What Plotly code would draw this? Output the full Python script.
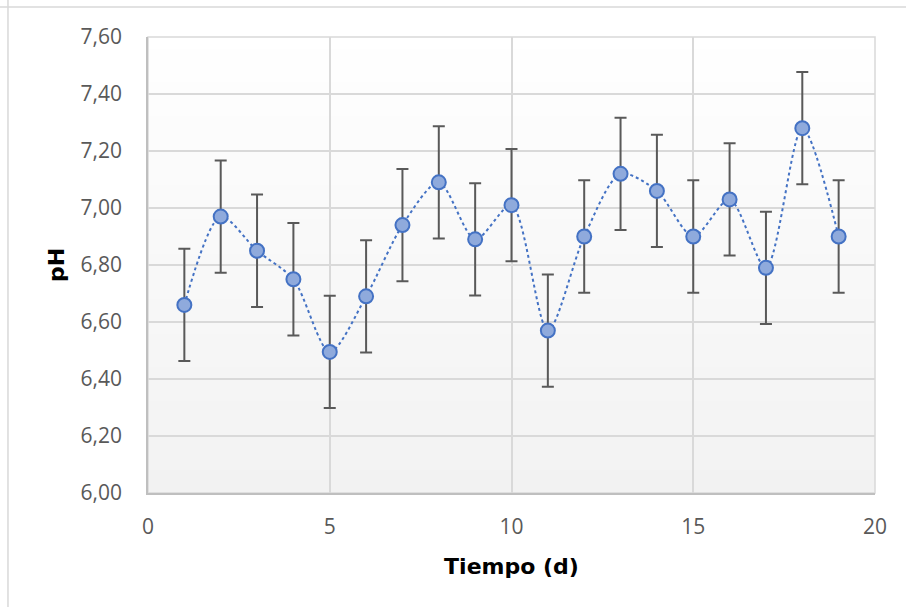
import plotly.graph_objects as go

dias = list(range(1, 20))
ph = [6.66, 6.97, 6.85, 6.75, 6.495, 6.69, 6.94, 7.09, 6.89, 7.01,
      6.57, 6.90, 7.12, 7.06, 6.90, 7.03, 6.79, 7.28, 6.90]
err = [0.197] * len(dias)

y_ticks = [6.0, 6.2, 6.4, 6.6, 6.8, 7.0, 7.2, 7.4, 7.6]
y_labels = ["6,00", "6,20", "6,40", "6,60", "6,80", "7,00", "7,20", "7,40", "7,60"]
x_ticks = [0, 5, 10, 15, 20]

fig = go.Figure()
fig.add_trace(go.Scatter(
    x=dias, y=ph, mode="lines+markers",
    line=dict(color="#4472c4", width=2, dash="dot", shape="spline", smoothing=0.8),
    marker=dict(size=14, color="#8faadc", line=dict(color="#4472c4", width=2)),
    error_y=dict(type="data", array=err, visible=True, color="#595959",
                 thickness=2, width=6),
    showlegend=False,
))

# gradient plot background
shapes = []
n = 40
for i in range(n):
    t = i / n
    c = int(round(255 - 13 * (1 - t)))
    shapes.append(dict(type="rect", xref="x domain", yref="y domain",
                       x0=0, x1=1, y0=t, y1=t + 1.0 / n + 0.002,
                       fillcolor=f"rgb({c},{c},{c})", line=dict(width=0),
                       layer="below"))
# chart frame lines
shapes.append(dict(type="line", xref="paper", yref="paper", x0=-0.25, x1=1.1,
                   y0=1.0658, y1=1.0658, line=dict(color="#d9d9d9", width=1.5)))
shapes.append(dict(type="line", xref="paper", yref="paper", x0=-0.1926, x1=-0.1926,
                   y0=-0.3, y1=1.1, line=dict(color="#d9d9d9", width=1.5)))
# plot area outline (top and right)
shapes.append(dict(type="rect", xref="x domain", yref="y domain", x0=0, x1=1,
                   y0=0, y1=1, line=dict(color="#d9d9d9", width=1.5), layer="below"))

title_font = dict(family="DejaVu Sans, sans-serif", size=22, color="black", weight="bold")

fig.update_layout(
    width=906, height=607,
    margin=dict(l=148, r=31, t=37, b=114),
    paper_bgcolor="white", plot_bgcolor="white",
    shapes=shapes,
    font=dict(family="Open Sans, sans-serif", color="#595959", size=21),
    xaxis=dict(range=[0, 20], tickvals=x_ticks, showgrid=True, gridcolor="#d9d9d9",
               gridwidth=1.5, showline=True, linecolor="#bfbfbf", linewidth=1.5,
               zeroline=False, ticks="outside", ticklen=14, tickcolor="rgba(0,0,0,0)",
               title=dict(text="Tiempo (d)", standoff=20, font=title_font)),
    yaxis=dict(range=[6.0, 7.6], tickvals=y_ticks, ticktext=y_labels, showgrid=True,
               gridcolor="#d9d9d9", gridwidth=1.5, showline=True, linecolor="#bfbfbf",
               linewidth=1.5, zeroline=False, ticks="outside", ticklen=20,
               tickcolor="rgba(0,0,0,0)",
               title=dict(text="pH", standoff=10, font=title_font)),
)

fig.write_html("out.html")
